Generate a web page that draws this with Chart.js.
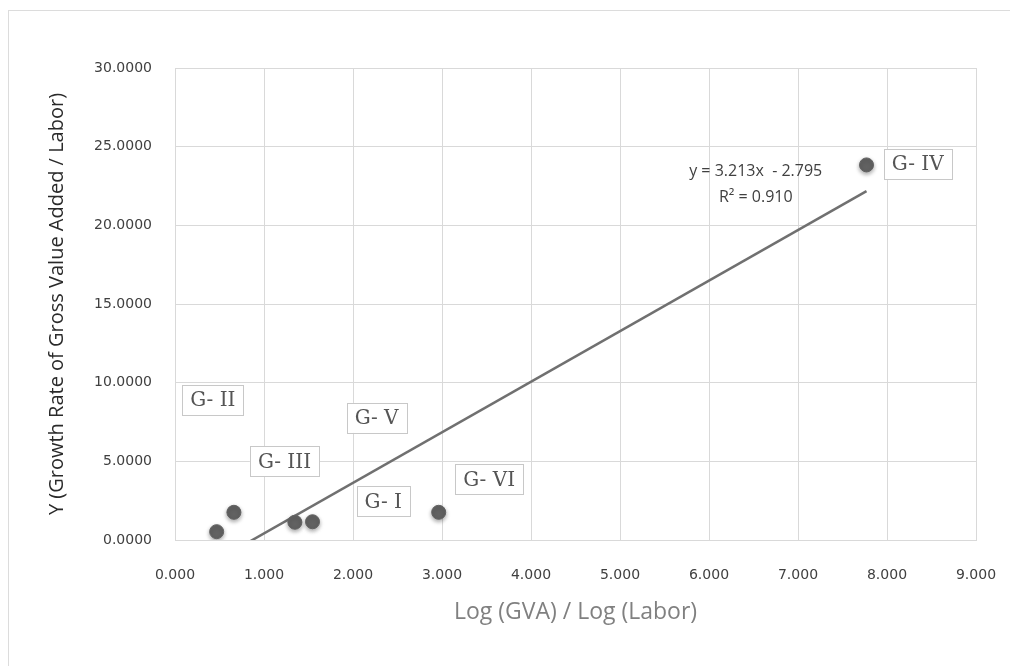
<!DOCTYPE html>
<html>
<head>
<meta charset="utf-8">
<script src="https://cdn.jsdelivr.net/npm/chart.js@4/dist/chart.umd.min.js"></script>
<style>
    html, body { margin: 0; padding: 0; background: #fff; }
    #wrap { position: relative; width: 1010px; height: 666px; }
    #frame { position: absolute; left: 8px; top: 10px; right: -2px; bottom: -2px; border-top: 1px solid #dcdcdc; border-left: 1px solid #dcdcdc; }
    #myChart { position: absolute; left: 0; top: 0; }
</style>
</head>
<body>
<div id="wrap">
    <div id="frame"></div>
    <canvas id="myChart" width="1010" height="666"></canvas>
</div>
<script>
// data
const xVals = [0.468, 0.662, 1.347, 1.545, 2.963, 7.770];
const yVals = [0.53, 1.76, 1.13, 1.16, 1.76, 23.84];

// trendline ends (Excel linear fit, y = 3.213x - 2.795)
const trendX = [0.468, 7.770];
const trendY = [-1.291, 22.170];
const trendText = ['y = 3.213x  - 2.795', 'R\u00b2 = 0.910'];

// group labels
const groupNames = ['G- II', 'G- V', 'G- III', 'G- VI', 'G- I', 'G- IV'];

const xTicks = [0, 1, 2, 3, 4, 5, 6, 7, 8, 9];
const yTicks = [0, 5, 10, 15, 20, 25, 30];

// where the boxes sit (data coords of box centre)
const labelSpots = [
    [0.425, 8.90], [2.265, 7.76], [1.230, 5.00],
    [3.530, 3.85], [2.340, 2.45], [8.345, 23.88]
];

const softShadow = {
    id: 'softShadow',
    beforeDatasetDraw(chart, args) {
        if (args.index !== 0) return;
        const c = chart.ctx;
        c.save();
        c.shadowColor = 'rgba(0,0,0,0.35)';
        c.shadowBlur = 4;
        c.shadowOffsetY = 2;
    },
    afterDatasetDraw(chart, args) {
        if (args.index !== 0) return;
        chart.ctx.restore();
    }
};

const boxLabels = {
    id: 'boxLabels',
    afterDatasetsDraw(chart) {
        const c = chart.ctx;
        const xs = chart.scales.x, ys = chart.scales.y;
        c.save();
        c.font = '20px "DejaVu Serif"';
        c.textAlign = 'center';
        c.textBaseline = 'middle';
        groupNames.forEach((name, i) => {
            const cx = xs.getPixelForValue(labelSpots[i][0]);
            const cy = ys.getPixelForValue(labelSpots[i][1]);
            const w = c.measureText(name).width + 16;
            const h = 30;
            c.fillStyle = '#fff';
            c.fillRect(cx - w / 2, cy - h / 2, w, h);
            c.strokeStyle = '#c8c8c8';
            c.lineWidth = 1;
            c.strokeRect(Math.round(cx - w / 2) + 0.5, Math.round(cy - h / 2) + 0.5, Math.round(w), h);
            c.fillStyle = '#555';
            c.fillText(name, cx, cy + 1);
        });

        // trendline equation
        c.font = '16px "Open Sans"';
        c.fillStyle = '#404040';
        const ex = xs.getPixelForValue(6.525);
        c.fillText(trendText[0], ex, ys.getPixelForValue(23.4));
        c.fillText(trendText[1], ex, ys.getPixelForValue(21.75));
        c.restore();
    }
};

document.addEventListener('DOMContentLoaded', () => {
    const ctx = document.getElementById('myChart');
    new Chart(ctx, {
        type: 'scatter',
        data: {
            datasets: [{
                label: 'Groups',
                data: xVals.map((x, i) => ({ x: x, y: yVals[i] })),
                backgroundColor: '#626262',
                borderColor: '#626262',
                pointRadius: 7,
                pointHoverRadius: 7
            }, {
                label: 'Linear',
                type: 'line',
                data: trendX.map((x, i) => ({ x: x, y: trendY[i] })),
                borderColor: '#707070',
                borderWidth: 2.5,
                pointRadius: 0,
                fill: false
            }]
        },
        options: {
            responsive: false,
            animation: false,
            devicePixelRatio: 1,
            layout: { padding: { left: 0, top: 68, right: 34, bottom: 0 } },
            plugins: {
                legend: { display: false },
                tooltip: { enabled: false }
            },
            scales: {
                x: {
                    type: 'linear',
                    min: 0,
                    max: 9,
                    afterBuildTicks: s => { s.ticks = xTicks.map(v => ({ value: v })); },
                    afterFit: s => { s.height = 126; s.paddingLeft = 0; s.paddingRight = 0; },
                    grid: { color: '#d9d9d9', drawTicks: false },
                    border: { color: '#d9d9d9' },
                    ticks: {
                        padding: 27,
                        maxRotation: 0,
                        color: '#404040',
                        font: { family: 'DejaVu Sans', size: 14 },
                        callback: v => v.toFixed(3)
                    },
                    title: {
                        display: true,
                        text: 'Log (GVA) / Log (Labor)',
                        color: '#808080',
                        font: { family: 'Open Sans', size: 23 },
                        padding: { top: 0, bottom: 40 }
                    }
                },
                y: {
                    type: 'linear',
                    min: 0,
                    max: 30,
                    afterBuildTicks: s => { s.ticks = yTicks.map(v => ({ value: v })); },
                    afterFit: s => { s.width = 175; s.paddingTop = 0; s.paddingBottom = 0; },
                    grid: { color: '#d9d9d9', drawTicks: false },
                    border: { color: '#d9d9d9' },
                    ticks: {
                        padding: 23,
                        color: '#404040',
                        font: { family: 'DejaVu Sans', size: 14 },
                        callback: v => v.toFixed(4)
                    },
                    title: {
                        display: true,
                        text: 'Y (Growth Rate of Gross Value Added / Labor)',
                        color: '#2a2a2a',
                        font: { family: 'Open Sans', size: 20 },
                        padding: { top: 45, bottom: 0 }
                    }
                }
            }
        },
        plugins: [softShadow, boxLabels]
    });
});
</script>
</body>
</html>
